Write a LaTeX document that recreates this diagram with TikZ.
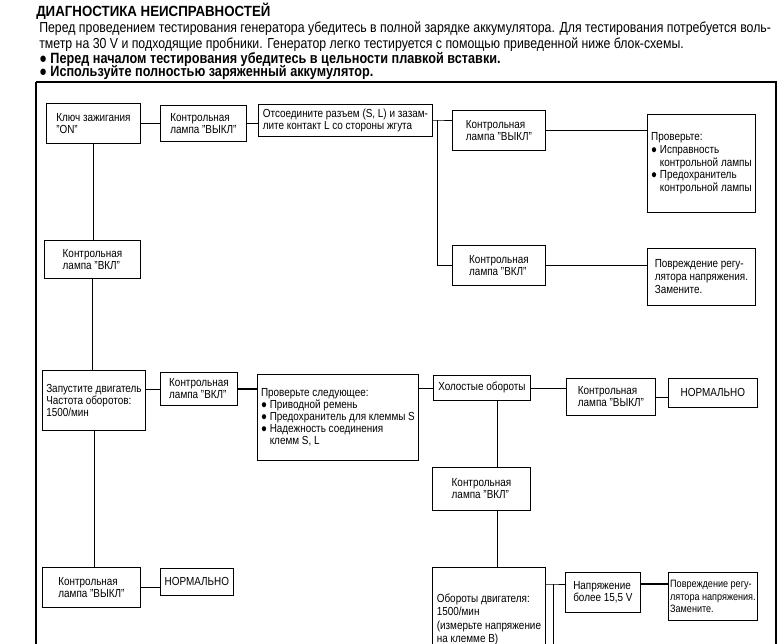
\documentclass[tikz,border=0pt]{standalone}
\usepackage{fontspec}
\setmainfont[FakeStretch=0.85]{Liberation Sans}
\newfontfamily\headfont[FakeStretch=0.9]{Liberation Sans}

\begin{document}
\begin{tikzpicture}[
                x=0.025cm, y=-0.025cm,
                blk/.style={draw, line width=0.6pt, anchor=north west, align=left, inner sep=1pt, font=\fontsize{8.3}{8.6}\selectfont},
                txt/.style={anchor=west, inner sep=0pt, font=\fontsize{10.3}{11}\selectfont},
                lnk/.style={-, line width=0.6pt},
                hvy/.style={-, line width=1.1pt}]

            \useasboundingbox (0,0) rectangle (779,644);
            \clip (0,0) rectangle (779,644);

            % Texte
            \node[anchor=west, inner sep=0pt, font=\headfont\bfseries\fontsize{10.5}{12}\selectfont] (title) at (36,11) {ДИАГНОСТИКА НЕИСПРАВНОСТЕЙ};
            \node[txt] (intro1) at (39,29) {Перед проведением тестирования генератора убедитесь в полной зарядке аккумулятора. Для тестирования потребуется воль-};
            \node[txt] (intro2) at (39,45) {тметр на 30 V и подходящие пробники. Генератор легко тестируется с помощью приведенной ниже блок-схемы.};
            \node[txt, font=\fontsize{10.6}{11}\selectfont\bfseries] (note1) at (39,60) {● Перед началом тестирования убедитесь в цельности плавкой вставки.};
            \node[txt, font=\fontsize{10.6}{11}\selectfont\bfseries] (note2) at (39,73) {● Используйте полностью заряженный аккумулятор.};

            % Cadre
            \draw[line width=1.2pt] (36,82) -- (776,82) -- (776,644);
            \draw[line width=1.8pt] (36,644) -- (36,82);

            % Blocs
            \node[blk, minimum width=2.35cm, minimum height=1cm] (key) at (46,103) {Ключ зажигания\\"ON"};
            \node[blk, minimum width=2.15cm, minimum height=0.9cm] (off1) at (160,105) {Контрольная\\лампа "ВЫКЛ"};
            \node[blk, minimum width=4.35cm, minimum height=0.8cm] (disc) at (258,104) {Отсоедините разъем (S, L) и зазам-\\лите контакт L со стороны жгута};
            \node[blk, minimum width=2.325cm, minimum height=1cm] (off2) at (452,110) {Контрольная\\лампа "ВЫКЛ"};
            \node[blk, minimum width=2.7cm, minimum height=2.45cm, font=\fontsize{8.3}{9}\selectfont] (chk1) at (647,114) {Проверьте:\\● Исправность\\\phantom{● }контрольной лампы\\● Предохранитель\\\phantom{● }контрольной лампы};
            \node[blk, minimum width=2.325cm, minimum height=1cm] (on2) at (452,245) {Контрольная\\лампа "ВКЛ"};
            \node[blk, minimum width=2.7cm, minimum height=1.425cm, font=\fontsize{8.3}{9.2}\selectfont] (reg1) at (647,248) {Повреждение регу-\\лятора напряжения.\\Замените.};
            \node[blk, minimum width=2.4cm, minimum height=0.95cm] (on1) at (44,240) {Контрольная\\лампа "ВКЛ"};
            \node[blk, minimum width=2.575cm, minimum height=1.5cm] (start) at (42,370) {Запустите двигатель\\Частота оборотов:\\1500/мин};
            \node[blk, minimum width=1.925cm, minimum height=0.825cm] (on3) at (160,372) {Контрольная\\лампа "ВКЛ"};
            \node[blk, minimum width=4.025cm, minimum height=2.15cm] (chk2) at (257,374) {Проверьте следующее:\\● Приводной ремень\\● Предохранитель для клеммы S\\● Надежность соединения\\\phantom{● }клемм S, L};
            \node[blk, minimum width=2.425cm, minimum height=0.625cm] (idle) at (433,375) {Холостые обороты};
            \node[blk, minimum width=2.225cm, minimum height=0.925cm] (off3) at (566,378) {Контрольная\\лампа "ВЫКЛ"};
            \node[blk, minimum width=2.225cm, minimum height=0.725cm] (norm1) at (668,378) {НОРМАЛЬНО};
            \node[blk, minimum width=2.45cm, minimum height=1.075cm] (on4) at (432,467) {Контрольная\\лампа "ВКЛ"};
            \node[blk, minimum width=2.825cm, minimum height=2.6cm, font=\fontsize{8.3}{9.3}\selectfont] (rpm) at (432,567) {Обороты двигателя:\\1500/мин\\(измерьте напряжение\\на клемме В)};
            \node[blk, minimum width=1.875cm, minimum height=1cm] (volt) at (565,572) {Напряжение\\более 15,5 V};
            \node[blk, minimum width=2.225cm, minimum height=1.2cm, font=\fontsize{7.6}{8.8}\selectfont] (reg2) at (668,572) {Повреждение регу-\\лятора напряжения.\\Замените.};
            \node[blk, minimum width=2.45cm, minimum height=1cm] (off4) at (42,567) {Контрольная\\лампа "ВЫКЛ"};
            \node[blk, minimum width=1.825cm, minimum height=0.675cm] (norm2) at (160,568) {НОРМАЛЬНО};

            % Liaisons
            \coordinate (j1) at (437,120);
            \coordinate (v2) at (497,0);
            \coordinate (j2) at (553,584);
            \coordinate (j2b) at (553,644);

            \draw[lnk] (key) -- (off1);
            \draw[lnk] (off1.east) -- (off1.east -| disc.west);
            \draw[lnk] (disc.east |- j1) -- (j1) -- (j1 -| off2.west);
            \draw[lnk] (j1) |- (on2.west);
            \draw[hvy] (off2.east) -- (off2.east -| chk1.west);
            \draw[hvy] (on2.east) -- (on2.east -| reg1.west);
            \draw[lnk] (key.south) -- (key.south |- on1.north);
            \draw[lnk] (on1.south) -- (on1.south |- start.north);
            \draw[lnk] (start.south) -- (start.south |- off4.north);
            \draw[lnk] (on3.west -| start.east) -- (on3.west);
            \draw[hvy] (on3.east) -- (on3.east -| chk2.west);
            \draw[lnk] (idle.west -| chk2.east) -- (idle.west);
            \draw[lnk] (idle.east) -- (idle.east -| off3.west);
            \draw[lnk] (off3.east) -- (off3.east -| norm1.west);
            \draw[lnk] (idle.south -| v2) -- (on4.north -| v2);
            \draw[lnk] (on4.south -| v2) -- (rpm.north -| v2);
            \draw[lnk] (rpm.east |- j2) -- (j2) -- (j2 -| volt.west);
            \draw[lnk] (j2) -- (j2b);
            \draw[hvy] (volt.east |- j2) -- (j2 -| reg2.west);
            \draw[lnk] (off4.east) -- (off4.east -| norm2.west);

        \end{tikzpicture}
\end{document}
